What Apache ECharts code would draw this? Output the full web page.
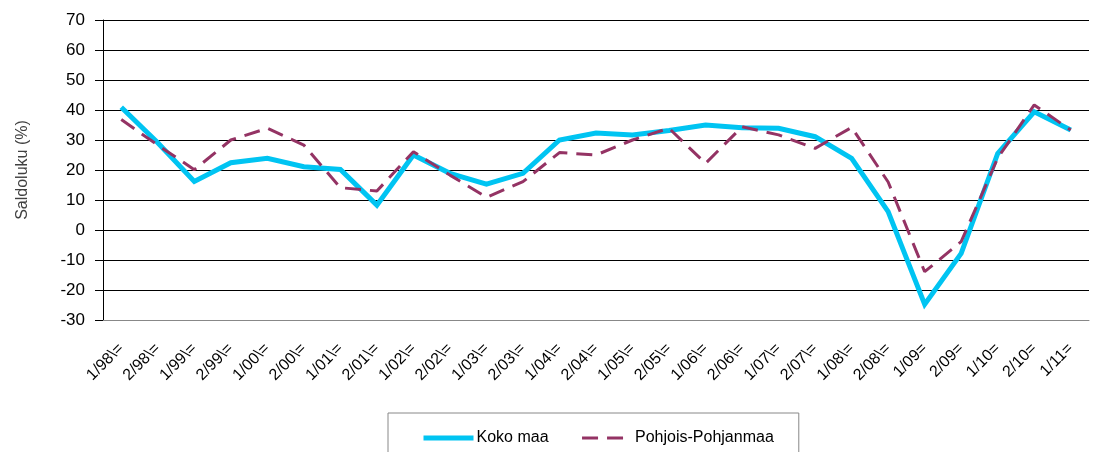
<!DOCTYPE html>
<html>
<head>
<meta charset="utf-8">
<script src="https://cdn.jsdelivr.net/npm/echarts@6/dist/echarts.min.js"></script>
<style>html,body{margin:0;padding:0;background:#fff}#c{width:1093px;height:452px}</style>
</head>
<body>
<div id="c"></div>
<script>
var categories = ["1/98\\=","2/98\\=","1/99\\=","2/99\\=","1/00\\=","2/00\\=","1/01\\=","2/01\\=","1/02\\=","2/02\\=","1/03\\=","2/03\\=","1/04\\=","2/04\\=","1/05\\=","2/05\\=","1/06\\=","2/06\\=","1/07\\=","2/07\\=","1/08\\=","2/08\\=","1/09=","2/09=","1/10=","2/10=","1/11="];
var kokoMaa = [40.9, 29.1, 16.2, 22.4, 23.9, 21.1, 20.2, 8.3, 25, 18.9, 15.3, 18.9, 30, 32.3, 31.7, 33.2, 35, 34.1, 33.9, 31.1, 23.9, 6.1, -24.8, -7.8, 25.5, 39.4, 33.3];
var pohjois = [36.8, 28.3, 20.1, 30, 33.9, 28.3, 14.1, 13, 26.1, 18.3, 10.9, 16.1, 25.8, 25, 30, 33.9, 22.2, 34.4, 31.7, 27.2, 34.2, 16, -13.9, -3.9, 24, 41.7, 33.3];
var yTicks = {min: -30, max: 70, interval: 10};

var FONT = 'Liberation Sans, Arial';
var chart = echarts.init(document.getElementById('c'));
chart.setOption({
  animation: false,
  grid: {left: 103, right: 4, top: 20, bottom: 132},
  xAxis: {
    type: 'category',
    data: categories,
    boundaryGap: true,
    axisLine: {onZero: false, lineStyle: {color: '#888', width: 1}},
    axisTick: {show: false},
    axisLabel: {rotate: 45, interval: 0, margin: 26, color: '#000', fontFamily: FONT, fontSize: 16}
  },
  yAxis: {
    type: 'value',
    min: yTicks.min, max: yTicks.max, interval: yTicks.interval,
    name: 'Saldoluku (%)',
    nameLocation: 'middle',
    nameGap: 72,
    nameTextStyle: {color: '#404040', fontFamily: FONT, fontSize: 16},
    axisLine: {show: true, lineStyle: {color: '#000', width: 1}},
    axisTick: {show: true, length: 8, lineStyle: {color: '#000'}},
    axisLabel: {margin: 18, color: '#000', fontFamily: FONT, fontSize: 17},
    splitLine: {show: true, lineStyle: {color: '#000', width: 1}}
  },
  legend: {
    data: [
      {name: 'Koko maa', lineStyle: {width: 5}},
      {name: 'Pohjois-Pohjanmaa', lineStyle: {width: 3}}
    ],
    left: 388,
    top: 413,
    padding: [17, 25, 30, 33],
    itemWidth: 50,
    itemHeight: 14,
    itemGap: 32,
    itemStyle: {opacity: 0},
    borderColor: '#888',
    borderWidth: 1,
    textStyle: {color: '#000', fontFamily: FONT, fontSize: 16, padding: [0, 0, 0, -2]}
  },
  series: [
    {
      name: 'Koko maa', type: 'line', data: kokoMaa, symbol: 'none',
      lineStyle: {color: '#00C4F2', width: 5, join: 'miter'},
      itemStyle: {color: '#00C4F2'}, z: 2
    },
    {
      name: 'Pohjois-Pohjanmaa', type: 'line', data: pohjois, symbol: 'none',
      lineStyle: {color: '#943364', width: 3, type: [16, 9]},
      itemStyle: {color: '#943364'}, z: 3
    }
  ]
});
</script>
</body>
</html>
